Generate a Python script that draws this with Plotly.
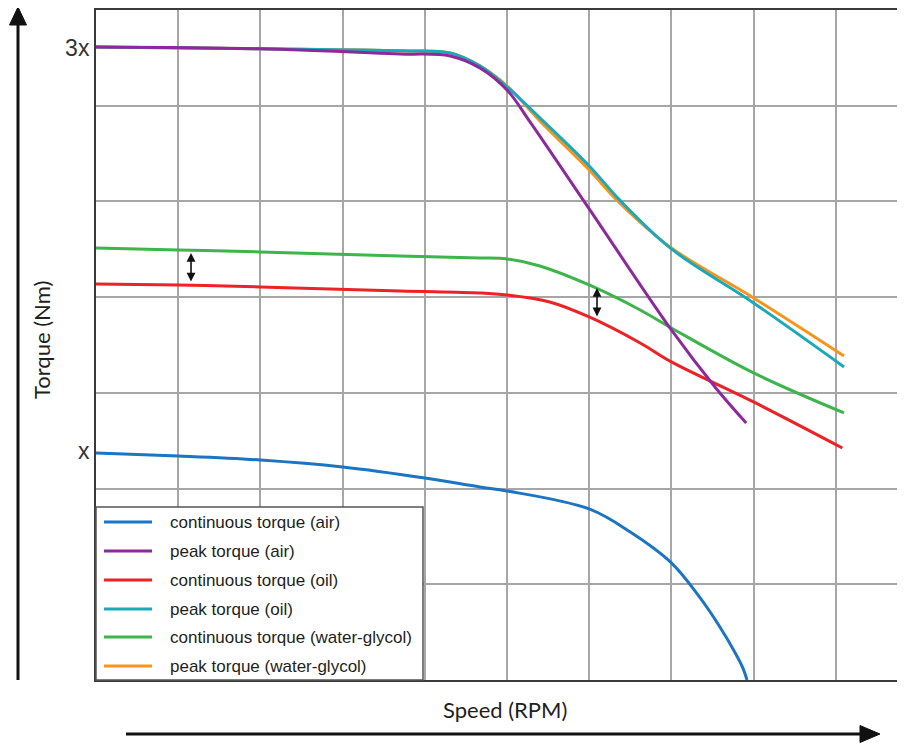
import plotly.graph_objects as go

# ---- data (speed and torque in grid units; axes carry no numeric scale) ----
names = [
    "continuous torque (air)",
    "peak torque (air)",
    "continuous torque (oil)",
    "peak torque (oil)",
    "continuous torque (water-glycol)",
    "peak torque (water-glycol)",
]
colors = ["#1b75c2", "#8c2a9c", "#ec2227", "#19a9b9", "#3db54a", "#f7941d"]

cont_air_x = [0, 1, 2, 3, 4, 4.67, 5, 6, 6.5, 7, 7.35, 7.59, 7.77, 7.87, 7.92]
cont_air_y = [2.372, 2.341, 2.299, 2.226, 2.111, 2.017, 1.975, 1.787, 1.546, 1.223, 0.857, 0.554, 0.293, 0.125, 0.0]

peak_air_x = [0, 2, 3.7, 4.31, 4.67, 5.0, 5.28, 6.0, 7.0, 7.54, 7.91]
peak_air_y = [6.614, 6.594, 6.541, 6.52, 6.395, 6.165, 5.831, 4.922, 3.657, 3.051, 2.685]

cont_oil_x = [0, 1, 2, 3.7, 4.67, 5.0, 5.52, 6.0, 6.62, 7.0, 8.0, 9.08]
cont_oil_y = [4.138, 4.127, 4.107, 4.065, 4.044, 4.023, 3.95, 3.793, 3.521, 3.323, 2.905, 2.424]

peak_oil_x = [0, 2, 3.7, 4.31, 4.67, 5.0, 5.4, 6.0, 6.37, 7.0, 8.0, 9.1]
peak_oil_y = [6.614, 6.594, 6.573, 6.552, 6.416, 6.197, 5.873, 5.371, 5.016, 4.504, 3.939, 3.271]

cont_wg_x = [0, 1, 2, 3.7, 4.67, 5.0, 5.4, 6.0, 6.62, 7.0, 8.0, 9.1]
cont_wg_y = [4.514, 4.493, 4.472, 4.431, 4.41, 4.399, 4.326, 4.127, 3.866, 3.678, 3.208, 2.79]

peak_wg_x = [0, 2, 3.7, 4.31, 4.67, 5.0, 5.4, 6.0, 6.37, 7.0, 8.0, 9.1]
peak_wg_y = [6.614, 6.594, 6.573, 6.552, 6.416, 6.207, 5.841, 5.329, 4.984, 4.514, 3.992, 3.386]

ytick_vals = [2.39, 6.6]
ytick_text = ["x", "3x"]

series_x = [cont_air_x, peak_air_x, cont_oil_x, peak_oil_x, cont_wg_x, peak_wg_x]
series_y = [cont_air_y, peak_air_y, cont_oil_y, peak_oil_y, cont_wg_y, peak_wg_y]

# ---- figure (page body has an 8px margin, so the figure is 8px smaller) ----
W, H = 897, 735
ML, MR, MT, MB = 88, 0, 2, 63
PW, PH = W - ML - MR, H - MT - MB
PLOT_LEFT_PAGE, PLOT_BOTTOM_PAGE = 96, 680


def px(xp):
    """page x pixel -> paper coordinate"""
    return (xp - PLOT_LEFT_PAGE) / PW


def py(yp):
    """page y pixel -> paper coordinate"""
    return (PLOT_BOTTOM_PAGE - yp) / PH


fig = go.Figure()
draw_order = [0, 2, 4, 5, 3, 1]
for i in draw_order:
    fig.add_trace(go.Scatter(
        x=series_x[i], y=series_y[i], mode="lines", name=names[i],
        line=dict(color=colors[i], width=3, shape="spline", smoothing=1.0),
        showlegend=False, hoverinfo="name",
    ))

grid_col = "#a6a6a6"
fig.update_layout(
    width=W, height=H,
    margin=dict(l=ML, r=MR, t=MT, b=MB),
    paper_bgcolor="white", plot_bgcolor="white",
    xaxis=dict(range=[0, PW / 82.2], dtick=1, tick0=0, showgrid=True,
               gridcolor=grid_col, gridwidth=2, zeroline=False,
               showticklabels=False, ticks="",
               showline=True, linecolor="#3a3a3a", linewidth=2, mirror=True),
    yaxis=dict(range=[0, 7], tickvals=ytick_vals, ticktext=ytick_text,
               showgrid=False, zeroline=False, ticks="",
               tickfont=dict(family="Liberation Sans", size=23, color="#333333"),
               minor=dict(dtick=1, tick0=0, showgrid=True, gridcolor=grid_col,
                          gridwidth=2, ticks=""),
               showline=True, linecolor="#3a3a3a", linewidth=2),
)

shapes = []
annotations = []

# legend box and entries
shapes.append(dict(type="rect", xref="paper", yref="paper",
                   x0=px(96), x1=px(423), y0=py(680), y1=py(507),
                   fillcolor="white", line=dict(color="#555555", width=1.5), layer="above"))
legend_rows = [522, 551, 580, 609, 637, 666]
for i, yr in enumerate(legend_rows):
    shapes.append(dict(type="line", xref="paper", yref="paper",
                       x0=px(104), x1=px(152), y0=py(yr), y1=py(yr),
                       line=dict(color=colors[i], width=3), layer="above"))
    annotations.append(dict(text=names[i], xref="paper", yref="paper",
                            x=px(168), y=py(yr), xanchor="left", yanchor="middle",
                            showarrow=False,
                            font=dict(family="Liberation Sans", size=17, color="#231f20")))

# axis arrows
shapes.append(dict(type="line", xref="paper", yref="paper",
                   x0=px(18), x1=px(18), y0=py(680), y1=py(20),
                   line=dict(color="#111111", width=3)))
shapes.append(dict(type="path", xref="paper", yref="paper",
                   path=f"M {px(18)},{py(7)} L {px(9.5)},{py(25)} L {px(26.5)},{py(25)} Z",
                   fillcolor="#111111", line=dict(color="#111111", width=1)))
shapes.append(dict(type="line", xref="paper", yref="paper",
                   x0=px(126), x1=px(864), y0=py(734), y1=py(734),
                   line=dict(color="#111111", width=3)))
shapes.append(dict(type="path", xref="paper", yref="paper",
                   path=f"M {px(880)},{py(734)} L {px(860)},{py(725.5)} L {px(860)},{py(742.5)} Z",
                   fillcolor="#111111", line=dict(color="#111111", width=1)))

# axis titles
annotations.append(dict(text="Torque (Nm)", xref="paper", yref="paper",
                        x=px(41), y=py(340), xanchor="center", yanchor="middle",
                        textangle=-90, showarrow=False,
                        font=dict(family="Lato", size=22, color="#231f20")))
annotations.append(dict(text="Speed (RPM)", xref="paper", yref="paper",
                        x=px(505), y=py(709), xanchor="center", yanchor="middle",
                        showarrow=False,
                        font=dict(family="Lato", size=22, color="#231f20")))

# double arrows marking the continuous-torque gain between oil and water-glycol
for (xa, ytop, ybot) in [(1.156, 4.462, 4.148), (6.095, 4.096, 3.783)]:
    annotations.append(dict(x=xa, y=ytop, ax=xa, ay=ybot, xref="x", yref="y",
                            axref="x", ayref="y", text="", showarrow=True,
                            arrowhead=2, arrowside="end+start", arrowsize=1.1,
                            arrowwidth=1.6, arrowcolor="#111111"))

fig.update_layout(shapes=shapes, annotations=annotations)
fig.write_html("out.html")
